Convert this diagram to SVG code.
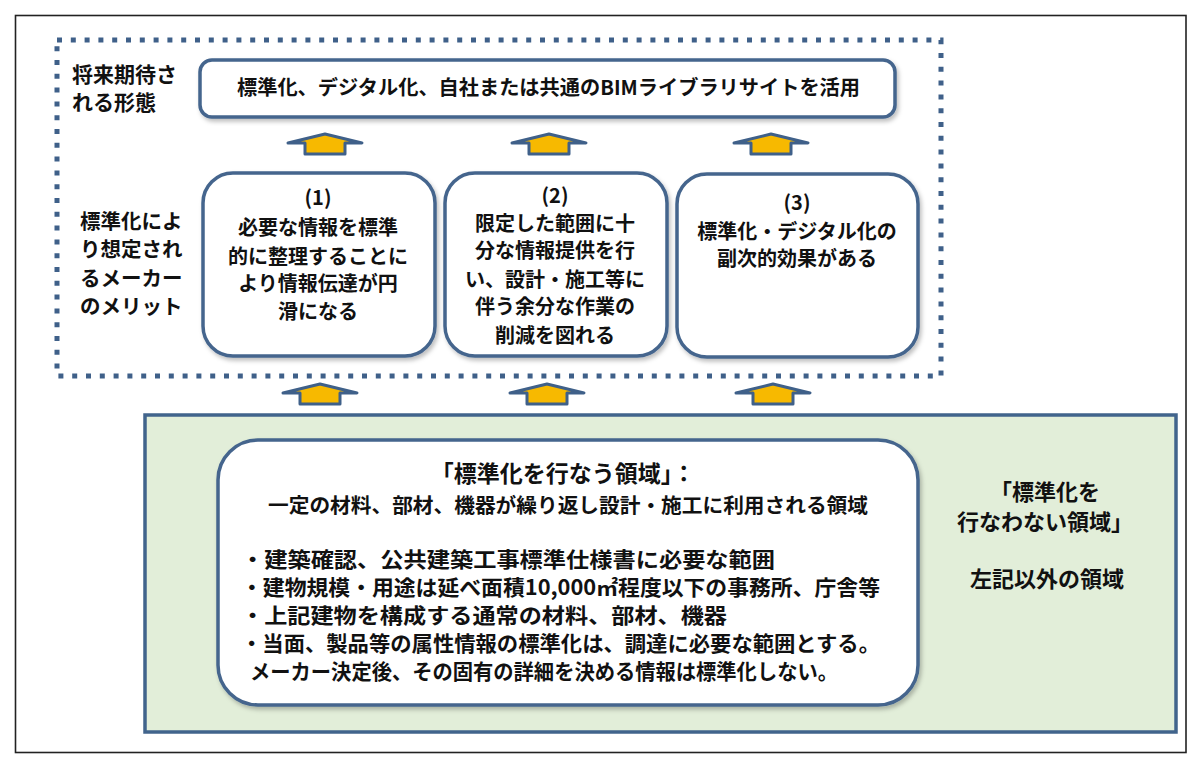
<svg xmlns="http://www.w3.org/2000/svg" width="1200" height="771" viewBox="0 0 1200 771">
<style>
.t{font-family:"Noto Sans CJK JP","Noto Sans CJK SC",sans-serif;font-weight:bold;fill:#111;}
.c{text-anchor:middle;}
.box{fill:#fff;stroke:#44658d;stroke-width:3.5;filter:url(#sh);}
</style>
<defs>
<filter id="sh" x="-10%" y="-10%" width="125%" height="125%">
<feDropShadow dx="2" dy="3" stdDeviation="2" flood-color="#000" flood-opacity="0.25"/>
</filter>
<path id="arr" d="M0,0 L37,9 L20,9 L20,20 L-20,20 L-20,9 L-37,9 Z" fill="#f7b900" stroke="#3f6089" stroke-width="3" stroke-linejoin="round"/>
</defs>
<rect x="0" y="0" width="1200" height="771" fill="#fff"/>
<rect x="15.5" y="15.5" width="1170.5" height="737" fill="none" stroke="#222" stroke-width="1.6"/>

<g id="future-frame">
<rect x="57" y="40" width="884" height="336" fill="none" stroke="#3f6089" stroke-width="5" stroke-dasharray="5 8.8"/>
</g>

<g id="label-future">
<text class="t" x="72" y="82" font-size="21">将来期待さ</text>
<text class="t" x="72" y="110" font-size="21">れる形態</text>
</g>
<g id="label-merit">
<text class="t" x="80" y="229" font-size="20.5">標準化によ</text>
<text class="t" x="80" y="257" font-size="20.5">り想定され</text>
<text class="t" x="80" y="286" font-size="20.5">るメーカー</text>
<text class="t" x="80" y="314" font-size="20.5">のメリット</text>
</g>

<g id="top-box">
<rect class="box" x="200" y="60" width="695" height="57" rx="12"/>
<text class="t" x="237" y="95" font-size="20" textLength="623" lengthAdjust="spacingAndGlyphs">標準化、デジタル化、自社または共通のBIMライブラリサイトを活用</text>
</g>

<g id="connectors">
<use href="#arr" x="325" y="134"/>
<use href="#arr" x="549" y="134"/>
<use href="#arr" x="771" y="134"/>
<use href="#arr" x="320" y="384"/>
<use href="#arr" x="547" y="384"/>
<use href="#arr" x="773" y="384"/>
</g>

<g id="merit1">
<rect class="box" x="203" y="173" width="232" height="183" rx="30"/>
<text class="c t" x="318" y="205" font-size="20">(1)</text>
<text class="c t" x="318" y="235" font-size="20">必要な情報を標準</text>
<text class="c t" x="318" y="264" font-size="20">的に整理することに</text>
<text class="c t" x="318" y="291" font-size="20">より情報伝達が円</text>
<text class="c t" x="318" y="319" font-size="20">滑になる</text>
</g>
<g id="merit2">
<rect class="box" x="445" y="173" width="222" height="183" rx="30"/>
<text class="c t" x="555" y="203" font-size="20">(2)</text>
<text class="c t" x="555" y="231" font-size="20">限定した範囲に十</text>
<text class="c t" x="555" y="258" font-size="20">分な情報提供を行</text>
<text class="c t" x="555" y="287" font-size="20">い、設計・施工等に</text>
<text class="c t" x="555" y="314" font-size="20">伴う余分な作業の</text>
<text class="c t" x="555" y="343" font-size="20">削減を図れる</text>
</g>
<g id="merit3">
<rect class="box" x="677" y="174" width="241" height="183" rx="30"/>
<text class="c t" x="797" y="210" font-size="20">(3)</text>
<text class="c t" x="797" y="239" font-size="20">標準化・デジタル化の</text>
<text class="c t" x="797" y="266" font-size="20">副次的効果がある</text>
</g>

<g id="domain-frame">
<rect x="145" y="415" width="1031" height="317" fill="#e2eed9" stroke="#41648c" stroke-width="3.5"/>
</g>

<g id="standard-domain">
<rect class="box" x="218" y="440" width="700" height="265" rx="40"/>
<text class="c t" x="563" y="482" font-size="23">「標準化を行なう領域」：</text>
<text class="t" x="268" y="513" font-size="20" textLength="600" lengthAdjust="spacingAndGlyphs">一定の材料、部材、機器が繰り返し設計・施工に利用される領域</text>
<text class="t" x="241" y="567" font-size="21" textLength="534" lengthAdjust="spacingAndGlyphs">・建築確認、公共建築工事標準仕様書に必要な範囲</text>
<text class="t" x="241" y="595" font-size="21" textLength="639" lengthAdjust="spacingAndGlyphs">・建物規模・用途は延べ面積10,000㎡程度以下の事務所、庁舎等</text>
<text class="t" x="241" y="623" font-size="21" textLength="486" lengthAdjust="spacingAndGlyphs">・上記建物を構成する通常の材料、部材、機器</text>
<text class="t" x="241" y="651" font-size="21" textLength="639" lengthAdjust="spacingAndGlyphs">・当面、製品等の属性情報の標準化は、調達に必要な範囲とする。</text>
<text class="t" x="250" y="679" font-size="21" textLength="588" lengthAdjust="spacingAndGlyphs">メーカー決定後、その固有の詳細を決める情報は標準化しない。</text>
</g>

<g id="non-standard-domain">
<text class="c t" x="1045" y="500" font-size="22">「標準化を</text>
<text class="c t" x="1045" y="530" font-size="22">行なわない領域」</text>
<text class="c t" x="1047" y="587" font-size="22">左記以外の領域</text>
</g>
</svg>
